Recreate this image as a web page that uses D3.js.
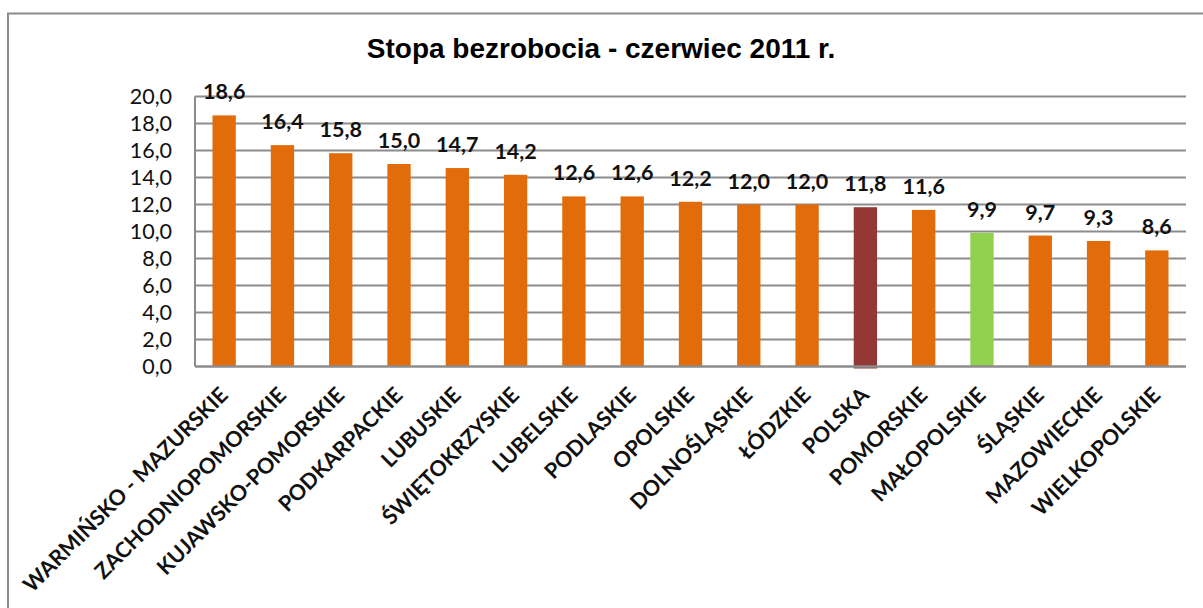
<!DOCTYPE html>
<html>
<head>
<meta charset="utf-8">
<script src="https://cdn.jsdelivr.net/npm/d3@7"></script>
<style>
  body { margin: 0; background: #fff; }
  svg { display: block; }
</style>
</head>
<body>
<script>
const width = 1203;
const height = 608;

// data
const regions = ["WARMIŃSKO - MAZURSKIE", "ZACHODNIOPOMORSKIE", "KUJAWSKO-POMORSKIE",
    "PODKARPACKIE", "LUBUSKIE", "ŚWIĘTOKRZYSKIE", "LUBELSKIE", "PODLASKIE", "OPOLSKIE",
    "DOLNOŚLĄSKIE", "ŁÓDZKIE", "POLSKA", "POMORSKIE", "MAŁOPOLSKIE", "ŚLĄSKIE",
    "MAZOWIECKIE", "WIELKOPOLSKIE"];
const rates = [18.6, 16.4, 15.8, 15.0, 14.7, 14.2, 12.6, 12.6, 12.2, 12.0, 12.0, 11.8, 11.6, 9.9, 9.7, 9.3, 8.6];
const yTicks = [0, 2, 4, 6, 8, 10, 12, 14, 16, 18, 20];
const title = "Stopa bezrobocia - czerwiec 2011 r.";

const fmt = v => v.toFixed(1).replace(".", ",");
const barColor = name => name === "POLSKA" ? "#953735" : name === "MAŁOPOLSKIE" ? "#92d050" : "#e36c0a";

const margin = {top: 96.5, right: 17, bottom: 241.5, left: 195};

const svg = d3.select("body")
    .append("svg")
    .attr("width", width)
    .attr("height", height);

// outer chart frame
svg.append("rect")
    .attr("x", 8)
    .attr("y", 13.5)
    .attr("width", 1300)
    .attr("height", 700)
    .attr("fill", "none")
    .attr("stroke", "#8c8c8c")
    .attr("stroke-width", 2);

svg.append("text")
    .attr("x", 601)
    .attr("y", 58)
    .attr("text-anchor", "middle")
    .style("font-family", "'Liberation Sans', Arial, sans-serif")
    .style("font-weight", "bold")
    .style("font-size", "28px")
    .text(title);

const x = d3.scaleBand()
    .domain(regions)
    .range([margin.left, width - margin.right])
    .paddingInner(0.6)
    .paddingOuter(0.3);

const y = d3.scaleLinear()
    .domain([0, 20])
    .range([height - margin.bottom, margin.top]);

// gridlines
svg.append("g")
    .attr("stroke", "#8c8c8c")
    .attr("stroke-width", 2)
    .selectAll("line")
    .data(yTicks.slice(1))
    .enter()
    .append("line")
    .attr("x1", margin.left)
    .attr("x2", width - margin.right)
    .attr("y1", d => y(d))
    .attr("y2", d => y(d));

// y axis labels
svg.append("g")
    .selectAll("text")
    .data(yTicks)
    .enter()
    .append("text")
    .attr("x", margin.left - 23)
    .attr("y", d => y(d) + 7.5)
    .attr("text-anchor", "end")
    .style("font-family", "Lato, sans-serif")
    .style("font-size", "21.5px")
    .attr("fill", "#111")
    .text(d => fmt(d));

// bars
svg.append("g")
    .selectAll("rect")
    .data(regions)
    .enter()
    .append("rect")
    .attr("x", d => x(d))
    .attr("y", (d, i) => y(rates[i]))
    .attr("width", x.bandwidth())
    .attr("height", (d, i) => y(0) - y(rates[i]) + (d === "POLSKA" ? 2 : 0))
    .attr("fill", d => barColor(d));

// value labels
svg.append("g")
    .selectAll("text")
    .data(regions)
    .enter()
    .append("text")
    .attr("x", d => x(d) + x.bandwidth() / 2)
    .attr("y", (d, i) => y(rates[i]) - 16)
    .attr("text-anchor", "middle")
    .style("font-family", "Lato, sans-serif")
    .style("font-weight", "bold")
    .style("font-size", "21.5px")
    .attr("fill", "#111")
    .text((d, i) => fmt(rates[i]));

// axes lines
svg.append("line")
    .attr("x1", margin.left).attr("x2", margin.left)
    .attr("y1", margin.top).attr("y2", y(0))
    .attr("stroke", "#8c8c8c").attr("stroke-width", 2);
svg.append("line")
    .attr("x1", margin.left).attr("x2", width - margin.right)
    .attr("y1", y(0)).attr("y2", y(0))
    .attr("stroke", "#8c8c8c").attr("stroke-width", 2.5);

// category labels, rotated
svg.append("g")
    .selectAll("text")
    .data(regions)
    .enter()
    .append("text")
    .attr("transform", d => `translate(${x(d) + x.bandwidth() / 2 + 5},${y(0) + 30}) rotate(-45)`)
    .attr("text-anchor", "end")
    .style("font-family", "Lato, sans-serif")
    .style("font-weight", "bold")
    .style("font-size", "21.5px")
    .attr("fill", "#111")
    .text(d => d);
</script>
</body>
</html>
